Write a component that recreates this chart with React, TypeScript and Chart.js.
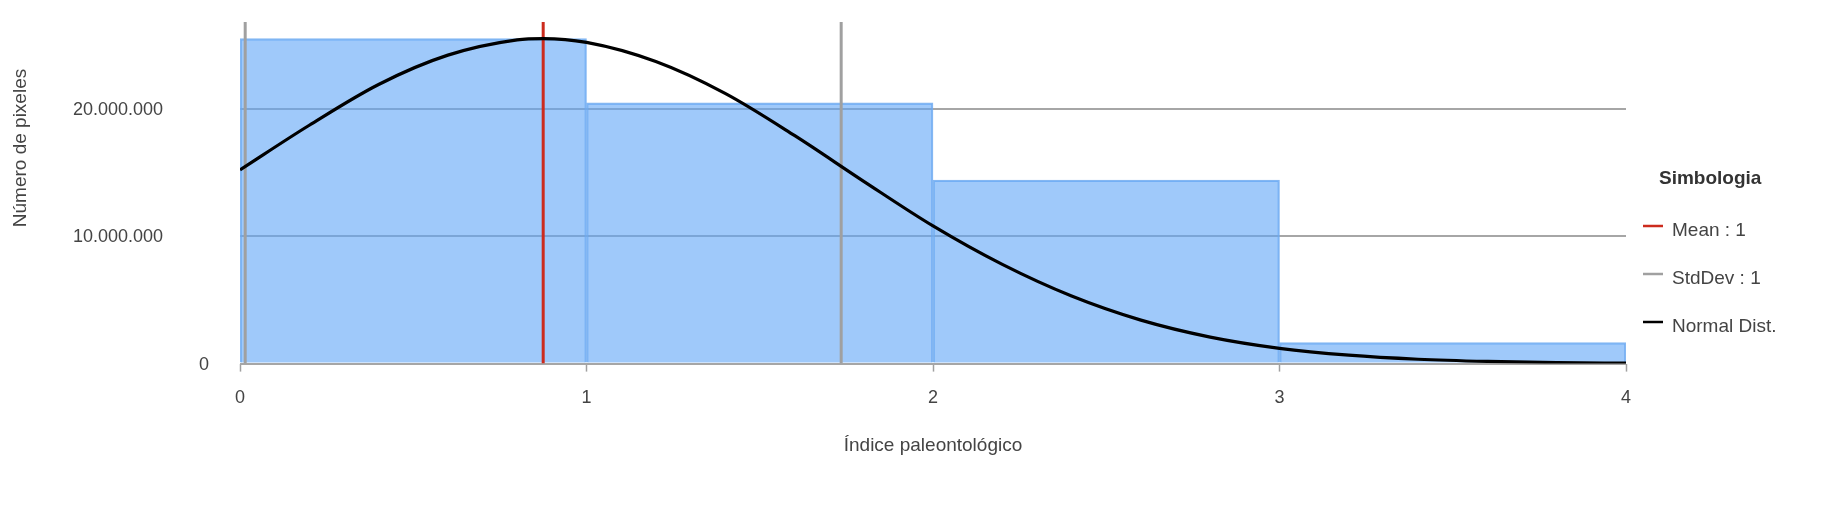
import React, { useEffect, useRef } from "react";
import { Chart, registerables } from "chart.js";

Chart.register(...registerables);

// ---- data ----
const binCenters = [0.5, 1.5, 2.5, 3.5];
const binCounts = [25500000, 20450000, 14400000, 1650000];

const curveX = [0, 0.2, 0.4, 0.6, 0.8, 0.875, 1.0, 1.2, 1.4, 1.6, 1.8, 2.0, 2.2, 2.4, 2.6, 2.8, 3.0, 3.2, 3.4, 3.6, 3.8, 4.0];
const curveY = [
  15200000, 18700000, 21900000, 24200000, 25400000, 25500000, 25200000, 23700000, 21200000, 17900000, 14300000,
  10800000, 7780000, 5300000, 3410000, 2080000, 1200000, 660000, 340000, 170000, 80000, 35000,
];

const meanX = 0.875;
const stdDevX = [0.015, 1.735];
const yAxisMax = 26800000;

const xTickValues = [0, 1, 2, 3, 4];
const yTickValues = [0, 10000000, 20000000];
const yTickLabels = ["0", "10.000.000", "20.000.000"];

const xTitle = "Índice paleontológico";
const yTitle = "Número de pixeles";
const legendTitle = "Simbologia";
const legendLabels = ["Mean : 1", "StdDev : 1", "Normal Dist."];

const FONT = "'Liberation Sans', Arial, sans-serif";
const TEXT = "#444444";

const overlayPlugin = {
  id: "overlay",
  afterDraw(chart: any) {
    const ctx = chart.ctx;
    const y = chart.scales.y;
    ctx.save();
    // y tick labels
    ctx.font = `18px ${FONT}`;
    ctx.fillStyle = TEXT;
    ctx.textBaseline = "middle";
    ctx.textAlign = "right";
    yTickValues.forEach((v, i) => {
      const py = y.getPixelForValue(v);
      const px = v === 0 ? 209 : 163;
      ctx.fillText(yTickLabels[i], px, py + 1);
    });
    // y title
    ctx.save();
    ctx.translate(21, 148);
    ctx.rotate(-Math.PI / 2);
    ctx.textAlign = "center";
    ctx.font = `19px ${FONT}`;
    ctx.fillText(yTitle, 0, 0);
    ctx.restore();
    // legend
    ctx.textAlign = "left";
    ctx.font = `bold 19px ${FONT}`;
    ctx.fillStyle = "#333333";
    ctx.fillText(legendTitle, 1659, 179);
    const colors = ["#cc2b1d", "#a0a0a0", "#000000"];
    ctx.font = `19px ${FONT}`;
    legendLabels.forEach((lab, i) => {
      const cy = 230 + i * 48;
      ctx.strokeStyle = colors[i];
      ctx.lineWidth = 2.5;
      ctx.beginPath();
      ctx.moveTo(1643, cy - 4);
      ctx.lineTo(1663, cy - 4);
      ctx.stroke();
      ctx.fillStyle = TEXT;
      ctx.fillText(lab, 1672, cy + 1);
    });
    ctx.restore();
  },
};

export default function App() {
  const ref = useRef<HTMLCanvasElement | null>(null);

  useEffect(() => {
    if (!ref.current) return;
    const chart = new Chart(ref.current, {
      type: "bar",
      data: {
        datasets: [
          {
            type: "line",
            label: "Normal Dist.",
            data: curveX.map((x, i) => ({ x, y: curveY[i] })),
            borderColor: "#000000",
            borderWidth: 3.2,
            pointRadius: 0,
            cubicInterpolationMode: "monotone",
            order: 0,
          } as any,
          {
            type: "line",
            label: "Mean : 1",
            data: [
              { x: meanX, y: 0 },
              { x: meanX, y: yAxisMax },
            ],
            borderColor: "#cc2b1d",
            borderWidth: 3,
            pointRadius: 0,
            order: 1,
          } as any,
          {
            type: "line",
            label: "StdDev : 1",
            data: [
              { x: stdDevX[0], y: 0 },
              { x: stdDevX[0], y: yAxisMax },
              { x: stdDevX[0], y: null },
              { x: stdDevX[1], y: 0 },
              { x: stdDevX[1], y: yAxisMax },
            ],
            borderColor: "#a0a0a0",
            borderWidth: 3,
            pointRadius: 0,
            spanGaps: false,
            order: 2,
          } as any,
          {
            type: "bar",
            label: "Count",
            data: binCenters.map((x, i) => ({ x, y: binCounts[i] })),
            backgroundColor: "rgba(95,165,247,0.6)",
            borderColor: "rgba(110,170,240,0.85)",
            borderWidth: 1.5,
            barPercentage: 1,
            categoryPercentage: 1,
            order: 3,
          } as any,
        ],
      },
      options: {
        responsive: false,
        animation: false,
        events: [],
        layout: { padding: { left: 240, right: 207, top: 22, bottom: 59 } },
        plugins: { legend: { display: false }, tooltip: { enabled: false } },
        scales: {
          x: {
            type: "linear",
            min: 0,
            max: 4,
            offset: false,
            afterBuildTicks: (s: any) => {
              s.ticks = xTickValues.map((v) => ({ value: v }));
            },
            ticks: {
              color: TEXT,
              font: { family: FONT, size: 18 },
              padding: 16,
            },
            grid: {
              offset: false,
              drawOnChartArea: false,
              drawTicks: true,
              tickLength: 8,
              tickColor: "#a0a0a0",
              tickWidth: 1.5,
            },
            border: { display: false },
            title: {
              display: true,
              text: xTitle,
              color: TEXT,
              font: { family: FONT, size: 19 },
              padding: { top: 9, bottom: 0 },
            },
          },
          y: {
            min: 0,
            max: yAxisMax,
            afterBuildTicks: (s: any) => {
              s.ticks = yTickValues.map((v) => ({ value: v }));
            },
            ticks: { display: false },
            grid: { color: "#a6a6a6", lineWidth: 2, drawTicks: false },
            border: { display: false },
          },
        },
      },
      plugins: [overlayPlugin],
    } as any);
    return () => chart.destroy();
  }, []);

  return (
    <div style={{ position: "absolute", left: 0, top: 0, width: 1833, height: 516, background: "#fff" }}>
      <canvas ref={ref} width={1833} height={516} style={{ display: "block" }} />
    </div>
  );
}
